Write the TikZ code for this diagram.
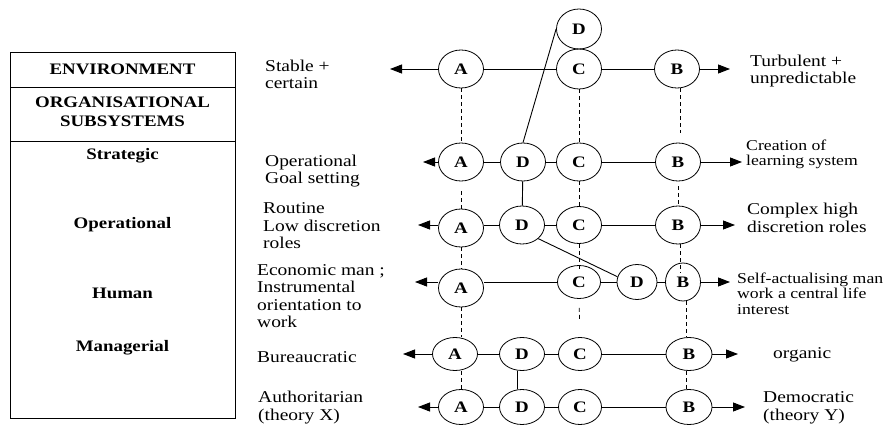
\documentclass[tikz,border=0pt]{standalone}
\usepackage{fontspec}
\setmainfont{Liberation Serif}[FakeStretch=1.18]
\usetikzlibrary{shapes.geometric,arrows.meta}
\newcommand{\nfont}{\fontsize{16.5}{17.5}\selectfont}
\newcommand{\sfont}{\fontsize{15}{15.5}\selectfont}
\newcommand{\bfont}{\fontsize{16}{19}\selectfont\bfseries}
\tikzset{
  circ/.style={ellipse, draw, line width=0.8pt, inner sep=0pt, minimum width=45pt, minimum height=38pt, font=\bfont},
  lbl/.style={anchor=west, align=left, inner sep=0pt, font=\nfont},
  slbl/.style={anchor=west, align=left, inner sep=0pt, font=\sfont},
  head/.style={align=center, inner sep=0pt, font=\bfont},
  conn/.style={line width=0.9pt},
  arr/.style={line width=0.9pt, -{Triangle[length=12pt,width=9pt]}},
  dsh/.style={line width=0.8pt, dash pattern=on 4pt off 3pt}
}
\begin{document}
\begin{tikzpicture}[x=1pt,y=-1pt]
\useasboundingbox (0,0) rectangle (884,425);
% left box
\draw[line width=0.8pt] (10,52) rectangle (235,418);
\draw[line width=0.8pt] (10,87) -- (235,87);
\draw[line width=0.8pt] (10,141) -- (235,141);
\node[head] (env) at (122.5,69) {ENVIRONMENT};
\node[head] (org) at (122.5,111.5) {ORGANISATIONAL\\SUBSYSTEMS};
\node[head] (str) at (122.5,156) {Strategic};
\node[head] (ope) at (122.5,225) {Operational};
\node[head] (hum) at (122.5,293) {Human};
\node[head] (man) at (122.5,348) {Managerial};
% left texts
\node[lbl] (t1) at (265,74.5) {Stable +\\certain};
\node[lbl] (t2) at (265,171) {Operational\\Goal setting};
\node[lbl] (t3) at (263,226) {Routine\\Low discretion\\roles};
\node[lbl] (t4) at (257,296) {Economic man ;\\Instrumental\\orientation to\\work};
\node[lbl] (t5) at (257,357) {Bureaucratic};
\node[lbl] (t6) at (258,407.5) {Authoritarian\\(theory X)};
% right texts
\node[lbl] (u1) at (750,71) {Turbulent +\\unpredictable};
\node[slbl] (u2) at (746,154.5) {Creation of\\learning system};
\node[lbl] (u3) at (747,218) {Complex high\\discretion roles};
\node[slbl] (u4) at (737,293.5) {Self-actualising man\\work a central life\\interest};
\node[lbl] (u5) at (773,355) {organic};
\node[lbl] (u6) at (763,408) {Democratic\\(theory Y)};
% row 1
\node[circ] (a1) at (461,69) {A};
\node[circ, minimum height=40pt] (c1) at (579,69) {C};
\node[circ, minimum height=40pt] (d1) at (579,29) {D};
\node[circ] (b1) at (677,69) {B};
\coordinate (l1) at (390,69);
\coordinate (r1) at (730,69);
% row 2
\node[circ] (a2) at (461,162) {A};
\node[circ] (d2) at (523,162) {D};
\node[circ] (c2) at (579,162) {C};
\node[circ] (b2) at (678,162) {B};
\coordinate (l2) at (423,162);
\coordinate (r2) at (742,162);
% row 3
\node[circ] (a3) at (461,228) {A};
\node[circ] (d3) at (522,225) {D};
\node[circ, minimum height=37pt] (c3) at (579,225) {C};
\node[circ] (b3) at (678,225) {B};
\coordinate (l3) at (418,225);
\coordinate (r3) at (735,225);
% row 4
\node[circ] (a4) at (461,288) {A};
\node[circ, minimum width=43pt, minimum height=33pt] (c4) at (579,282) {C};
\node[circ, minimum width=40pt, minimum height=35pt] (d4) at (637,282) {D};
\node[circ, minimum width=35pt, minimum height=38pt] (b4) at (683,282) {B};
\coordinate (l4) at (415,282);
\coordinate (r4) at (730,282);
% row 5
\node[circ, minimum height=33pt] (a5) at (455,354) {A};
\node[circ, minimum height=33pt] (d5) at (522,354) {D};
\node[circ, minimum width=43pt, minimum height=33pt] (c5) at (580,354) {C};
\node[circ, minimum width=46pt, minimum height=33pt] (b5) at (689,354) {B};
\coordinate (l5) at (403,354);
\coordinate (r5) at (738,354);
% row 6
\node[circ, minimum height=35pt] (a6) at (461,407) {A};
\node[circ, minimum height=35pt] (d6) at (522,407) {D};
\node[circ, minimum width=43pt, minimum height=35pt] (c6) at (580,407) {C};
\node[circ, minimum width=46pt, minimum height=35pt] (b6) at (689,407) {B};
\coordinate (l6) at (418,407);
\coordinate (r6) at (745,407);
% horizontal connectors
\draw[arr] (a1) -- (l1);
\draw[conn] (a1) -- (c1) (c1) -- (b1);
\draw[arr] (b1) -- (r1);
\draw[arr] (a2) -- (l2);
\draw[conn] (a2) -- (d2) (d2) -- (c2) (c2) -- (b2);
\draw[arr] (b2) -- (r2);
\draw[arr] (d3 -| a3.west) -- (l3);
\draw[conn] (d3) -- (d3 -| a3.east) (d3) -- (c3) (c3) -- (b3);
\draw[arr] (b3) -- (r3);
\draw[arr] (c4 -| a4.west) -- (l4);
\draw[conn] (c4) -- (c4 -| a4.east) (c4) -- (d4) (d4) -- (b4);
\draw[arr] (b4) -- (r4);
\draw[arr] (a5) -- (l5);
\draw[conn] (a5) -- (d5) (d5) -- (c5) (c5) -- (b5);
\draw[arr] (b5) -- (r5);
\draw[arr] (a6) -- (l6);
\draw[conn] (a6) -- (d6) (d6) -- (c6) (c6) -- (b6);
\draw[arr] (b6) -- (r6);
% D links
\draw[conn] (d1.west) -- (d2.north);
\draw[conn] (d2) -- (d3);
\draw[conn] (d3.-40) -- (d4.165);
\draw[conn] ([xshift=-5pt]d5.south) -- ([xshift=-5pt]d6.north);
% dashed A column
\draw[dsh] (a1.south) -- (a2.north);
\draw[dsh, shorten <=10pt] (a2.south) -- (a3.north);
\draw[dsh] (a3.south) -- (a4.north);
\draw[dsh] (a4.south) -- (a4.south |- a5.north);
\draw[dsh] (a6.north |- a5.south) -- (a6.north);
% dashed C column
\draw[dsh] (c1.south) -- (c2.north);
\draw[dsh] (c2.south) -- (c3.north);
\draw[dsh, shorten >=-5pt] (c3.south) -- (c4.north);
\draw[dsh, shorten <=9pt, shorten >=16pt] (c4.south) -- (c5.north);
% dashed B column
\draw[dsh, shorten >=10pt] ([xshift=3pt]b1.south) -- ([xshift=2pt]b2.north);
\draw[dsh, shorten <=5pt] (b2.south) -- (b3.north);
\draw[dsh, shorten >=-10pt] ([xshift=2pt]b3.south) -- ([xshift=-3pt]b4.north);
\draw[dsh] ([xshift=3pt]b4.south) -- ([xshift=-3pt]b5.north);
\draw[dsh] ([xshift=-3pt]b5.south) -- ([xshift=-3pt]b6.north);
\end{tikzpicture}
\end{document}
